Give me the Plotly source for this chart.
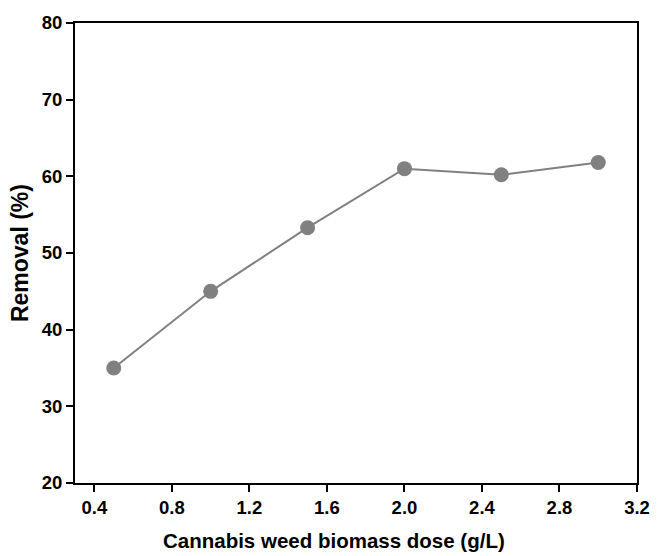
import plotly.graph_objects as go

dose = [0.5, 1.0, 1.5, 2.0, 2.5, 3.0]
removal = [35.0, 45.0, 53.3, 61.0, 60.2, 61.8]
x_ticks = [0.4, 0.8, 1.2, 1.6, 2.0, 2.4, 2.8, 3.2]
y_ticks = [20, 30, 40, 50, 60, 70, 80]
x_title = "Cannabis weed biomass dose (g/L)"
y_title = "Removal (%)"

fig = go.Figure()
fig.add_trace(go.Scatter(
    x=dose, y=removal, mode="lines+markers",
    line=dict(color="#808080", width=2),
    marker=dict(color="#808080", size=15),
    showlegend=False,
))

font = "Liberation Sans, Arial, sans-serif"
L, R, T, B = 75, 14, 20, 73
W, H = 662, 556
pw, ph = W - L - R, H - T - B
fig.update_layout(
    width=W, height=H,
    margin=dict(l=L, r=R, t=T, b=B),
    plot_bgcolor="white", paper_bgcolor="white",
    font=dict(family=font, color="black"),
)
fig.update_xaxes(
    range=[0.3, 3.2], tickvals=x_ticks, ticktext=[f"<b>{v:.1f}</b>" for v in x_ticks],
    showgrid=False, zeroline=False, showline=True, linecolor="black", linewidth=2,
    mirror=True, ticks="outside", ticklen=7, tickwidth=2, tickcolor="black",
    tickfont=dict(size=18.5, family=font),
)
fig.update_yaxes(
    range=[20, 80], tickvals=y_ticks, ticktext=[f"<b>{v}</b>" for v in y_ticks],
    showgrid=False, zeroline=False, showline=True, linecolor="black", linewidth=2,
    mirror=True, ticks="outside", ticklen=7, tickwidth=2, tickcolor="black",
    tickfont=dict(size=18.5, family=font),
)
fig.add_annotation(
    text=f"<b>{x_title}</b>", xref="paper", yref="paper",
    x=(339 - L) / pw, y=-(541 - (T + ph)) / ph, xanchor="center", yanchor="middle",
    showarrow=False, font=dict(size=20.5, family=font, color="black"),
)
fig.add_annotation(
    text=f"<b>{y_title}</b>", xref="paper", yref="paper",
    x=(19 - L) / pw, y=0.5, xanchor="center", yanchor="middle", textangle=-90,
    showarrow=False, font=dict(size=23, family=font, color="black"),
)
fig.write_html("out.html")
